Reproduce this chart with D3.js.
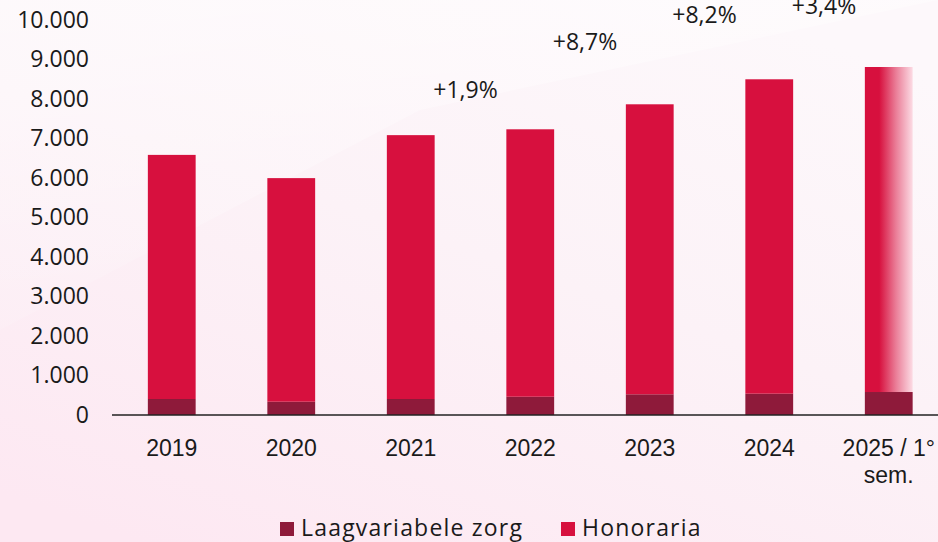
<!DOCTYPE html>
<html>
<head>
<meta charset="utf-8">
<script src="https://cdn.jsdelivr.net/npm/d3@7"></script>
<style>
  body { margin: 0; }
  svg { display: block; font-family: "Open Sans", sans-serif; }
</style>
</head>
<body>
<svg width="938" height="542"></svg>
<script>
// data
var years = ["2019", "2020", "2021", "2022", "2023", "2024", "2025 / 1°|sem."];
var laagvariabele = [405, 337, 405, 463, 524, 540, 582];
var honoraria = [6180, 5660, 6680, 6770, 7342, 7959, 8228];
var yTicks = [0, 1000, 2000, 3000, 4000, 5000, 6000, 7000, 8000, 9000, 10000];
var growthLabels = ["+1,9%", "+8,7%", "+8,2%", "+3,4%"];
var growthAfter = ["2021", "2022", "2023", "2024"];   // label sits between this year and the next
var growthLevel = [8030, 9240, 9920, 10150];          // label baseline in chart units
var seriesNames = ["Laagvariabele zorg", "Honoraria"];
var colors = ["#8e1a3a", "#d7103e"];

var svgWidth = 938, svgHeight = 542;
var svg = d3.select("svg");
var defs = svg.append("defs");

// soft pink background
var bg = defs.append("linearGradient").attr("id", "bg")
  .attr("x1", 0.75).attr("y1", 0).attr("x2", 0.15).attr("y2", 1);
bg.append("stop").attr("offset", 0).attr("stop-color", "#fdf8fb");
bg.append("stop").attr("offset", 0.45).attr("stop-color", "#fcf2f7");
bg.append("stop").attr("offset", 1).attr("stop-color", "#fde8f2");

var shine = defs.append("linearGradient").attr("id", "shine")
  .attr("x1", 0).attr("y1", 0).attr("x2", 0.3).attr("y2", 1);
shine.append("stop").attr("offset", 0).attr("stop-color", "#ffffff").attr("stop-opacity", 0.5);
shine.append("stop").attr("offset", 1).attr("stop-color", "#ffffff").attr("stop-opacity", 0.05);

// fading fill for the half-year bar
var fade = defs.append("linearGradient").attr("id", "fade")
  .attr("x1", 0).attr("y1", 0).attr("x2", 1).attr("y2", 0);
fade.append("stop").attr("offset", 0).attr("stop-color", colors[1]);
fade.append("stop").attr("offset", 0.3).attr("stop-color", colors[1]);
fade.append("stop").attr("offset", 0.65).attr("stop-color", "#ea7d97");
fade.append("stop").attr("offset", 1).attr("stop-color", "#fcdbe4");

svg.append("rect").attr("width", svgWidth).attr("height", svgHeight).attr("fill", "url(#bg)");
svg.append("path")
  .attr("d", "M0,330 L420,110 L938,0 L0,0 Z")
  .attr("fill", "url(#shine)");

var x = d3.scaleBand()
  .domain(years)
  .range([112, 948.5])
  .paddingInner(0.6)
  .paddingOuter(0.3);

var y = d3.scaleLinear()
  .domain([0, 10000])
  .range([415, 20]);

var data = years.map(function (d, i) {
  return { year: d, laag: laagvariabele[i], hon: honoraria[i] };
});

var stack = d3.stack().keys(["laag", "hon"])(data);

// y axis labels only
var fmt = function (d) { return d3.format(",")(d).replace(/,/g, "."); };
var yAxis = svg.append("g")
  .attr("transform", "translate(112,0)")
  .call(d3.axisLeft(y).tickValues(yTicks).tickSize(0).tickPadding(23).tickFormat(fmt));
yAxis.select(".domain").remove();
yAxis.selectAll("text")
  .attr("font-family", "Open Sans, sans-serif")
  .attr("font-size", 23)
  .attr("fill", "#1a1a1a");

// bars
stack.forEach(function (layer, li) {
  svg.append("g").selectAll("rect")
    .data(layer)
    .enter()
    .append("rect")
    .attr("x", function (d) { return x(d.data.year); })
    .attr("y", function (d) { return y(d[1]); })
    .attr("width", x.bandwidth())
    .attr("height", function (d) { return y(d[0]) - y(d[1]); })
    .attr("fill", function (d, i) {
      return (li === 1 && i === years.length - 1) ? "url(#fade)" : colors[li];
    });
});

// x axis with baseline
var xAxis = svg.append("g")
  .attr("transform", "translate(0,415)")
  .call(d3.axisBottom(x).tickSize(0).tickPadding(0).tickFormat(""));
xAxis.select(".domain")
  .attr("d", "M112,0H938")
  .attr("stroke", "#222")
  .attr("stroke-width", 1.6);

xAxis.selectAll(".tick").each(function (d) {
  var lines = d.split("|");
  var t = d3.select(this).append("text")
    .attr("fill", "#1a1a1a")
    .attr("font-size", 23)
    .attr("text-anchor", "middle");
  lines.forEach(function (l, i) {
    t.append("tspan")
      .attr("x", 0)
      .attr("y", 41 + i * 27)
      .text(l);
  });
});

// growth labels
svg.append("g").selectAll("text")
  .data(growthLabels)
  .enter()
  .append("text")
  .attr("x", function (d, i) {
    var a = x(growthAfter[i]) + x.bandwidth() / 2;
    return a + x.step() / 2 - 5;
  })
  .attr("y", function (d, i) { return y(growthLevel[i]); })
  .attr("text-anchor", "middle")
  .attr("font-size", 23)
  .attr("fill", "#1a1a1a")
  .text(function (d) { return d; });

// legend
var legend = svg.append("g").attr("transform", "translate(280,522)");
var lx = [0, 281];
seriesNames.forEach(function (name, i) {
  var g = legend.append("g").attr("transform", "translate(" + lx[i] + ",0)");
  g.append("rect").attr("width", 14).attr("height", 14).attr("fill", colors[i]);
  g.append("text")
    .attr("x", 21)
    .attr("y", 14)
    .attr("font-size", 23)
    .attr("letter-spacing", 1.2)
    .attr("fill", "#1a1a1a")
    .text(name);
});
</script>
</body>
</html>
